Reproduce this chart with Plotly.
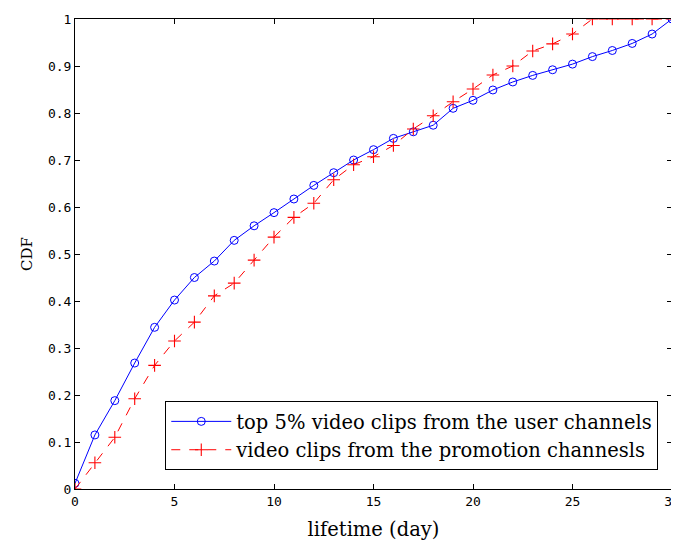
import plotly.graph_objects as go

days = list(range(0, 31))
user_cdf = [0.012, 0.115, 0.188, 0.268, 0.344, 0.402, 0.450, 0.485, 0.529, 0.560,
            0.588, 0.617, 0.646, 0.673, 0.700, 0.722, 0.746, 0.760, 0.774, 0.810,
            0.827, 0.849, 0.866, 0.880, 0.892, 0.904, 0.920, 0.933, 0.948, 0.968, 1.0]
promo_cdf = [0.0, 0.056, 0.110, 0.192, 0.263, 0.315, 0.355, 0.411, 0.438, 0.487,
             0.536, 0.578, 0.608, 0.658, 0.690, 0.707, 0.731, 0.766, 0.794, 0.824,
             0.851, 0.881, 0.900, 0.932, 0.947, 0.968, 1.0, 1.0, 1.0, 1.0, 1.0]
x_ticks = [0, 5, 10, 15, 20, 25, 30]
y_ticks = [0, 0.1, 0.2, 0.3, 0.4, 0.5, 0.6, 0.7, 0.8, 0.9, 1]
y_tick_text = ["0", "0.1", "0.2", "0.3", "0.4", "0.5", "0.6", "0.7", "0.8", "0.9", "1"]

fig = go.Figure()
fig.add_trace(go.Scatter(
    x=days, y=user_cdf, mode="lines+markers",
    name="top 5% video clips from the user channels",
    line=dict(color="#0000ff", width=1),
    marker=dict(symbol="circle-open", size=8, color="#0000ff", line=dict(width=1)),
))
fig.add_trace(go.Scatter(
    x=days, y=promo_cdf, mode="lines+markers",
    name="video clips from the promotion channesls",
    line=dict(color="#ff0000", width=1, dash="dash"),
    marker=dict(symbol="cross-thin", size=9, color="#ff0000", line=dict(width=1.1, color="#ff0000")),
))

axis_common = dict(
    showgrid=False, zeroline=False, showline=True, linecolor="#000000", linewidth=1,
    mirror="ticks", ticks="inside", ticklen=5, tickcolor="#000000", automargin=False,
    ticklabeloverflow="allow",
    tickfont=dict(family="DejaVu Sans Mono, monospace", size=13, color="#000000"),
)
fig.update_xaxes(range=[0, 30], tickvals=x_ticks,
                 title=dict(text="lifetime (day)", font=dict(family="DejaVu Serif, serif", size=19.5, color="#000000"), standoff=14),
                 **axis_common)
fig.update_yaxes(range=[0, 1], tickvals=y_ticks, ticktext=y_tick_text,
                 title=dict(text="CDF", font=dict(family="DejaVu Serif, serif", size=15, color="#000000"), standoff=11),
                 **axis_common)

fig.update_layout(
    width=671, height=536,
    margin=dict(l=67, r=7, t=11, b=55),
    paper_bgcolor="#ffffff", plot_bgcolor="#ffffff",
    showlegend=True,
    legend=dict(
        x=0.977, y=0.04, xanchor="right", yanchor="bottom",
        bordercolor="#000000", borderwidth=1, bgcolor="#ffffff",
        font=dict(family="DejaVu Serif, serif", size=19.5, color="#000000"),
        tracegroupgap=0, itemwidth=60,
    ),
)

fig.write_html("out.html")
